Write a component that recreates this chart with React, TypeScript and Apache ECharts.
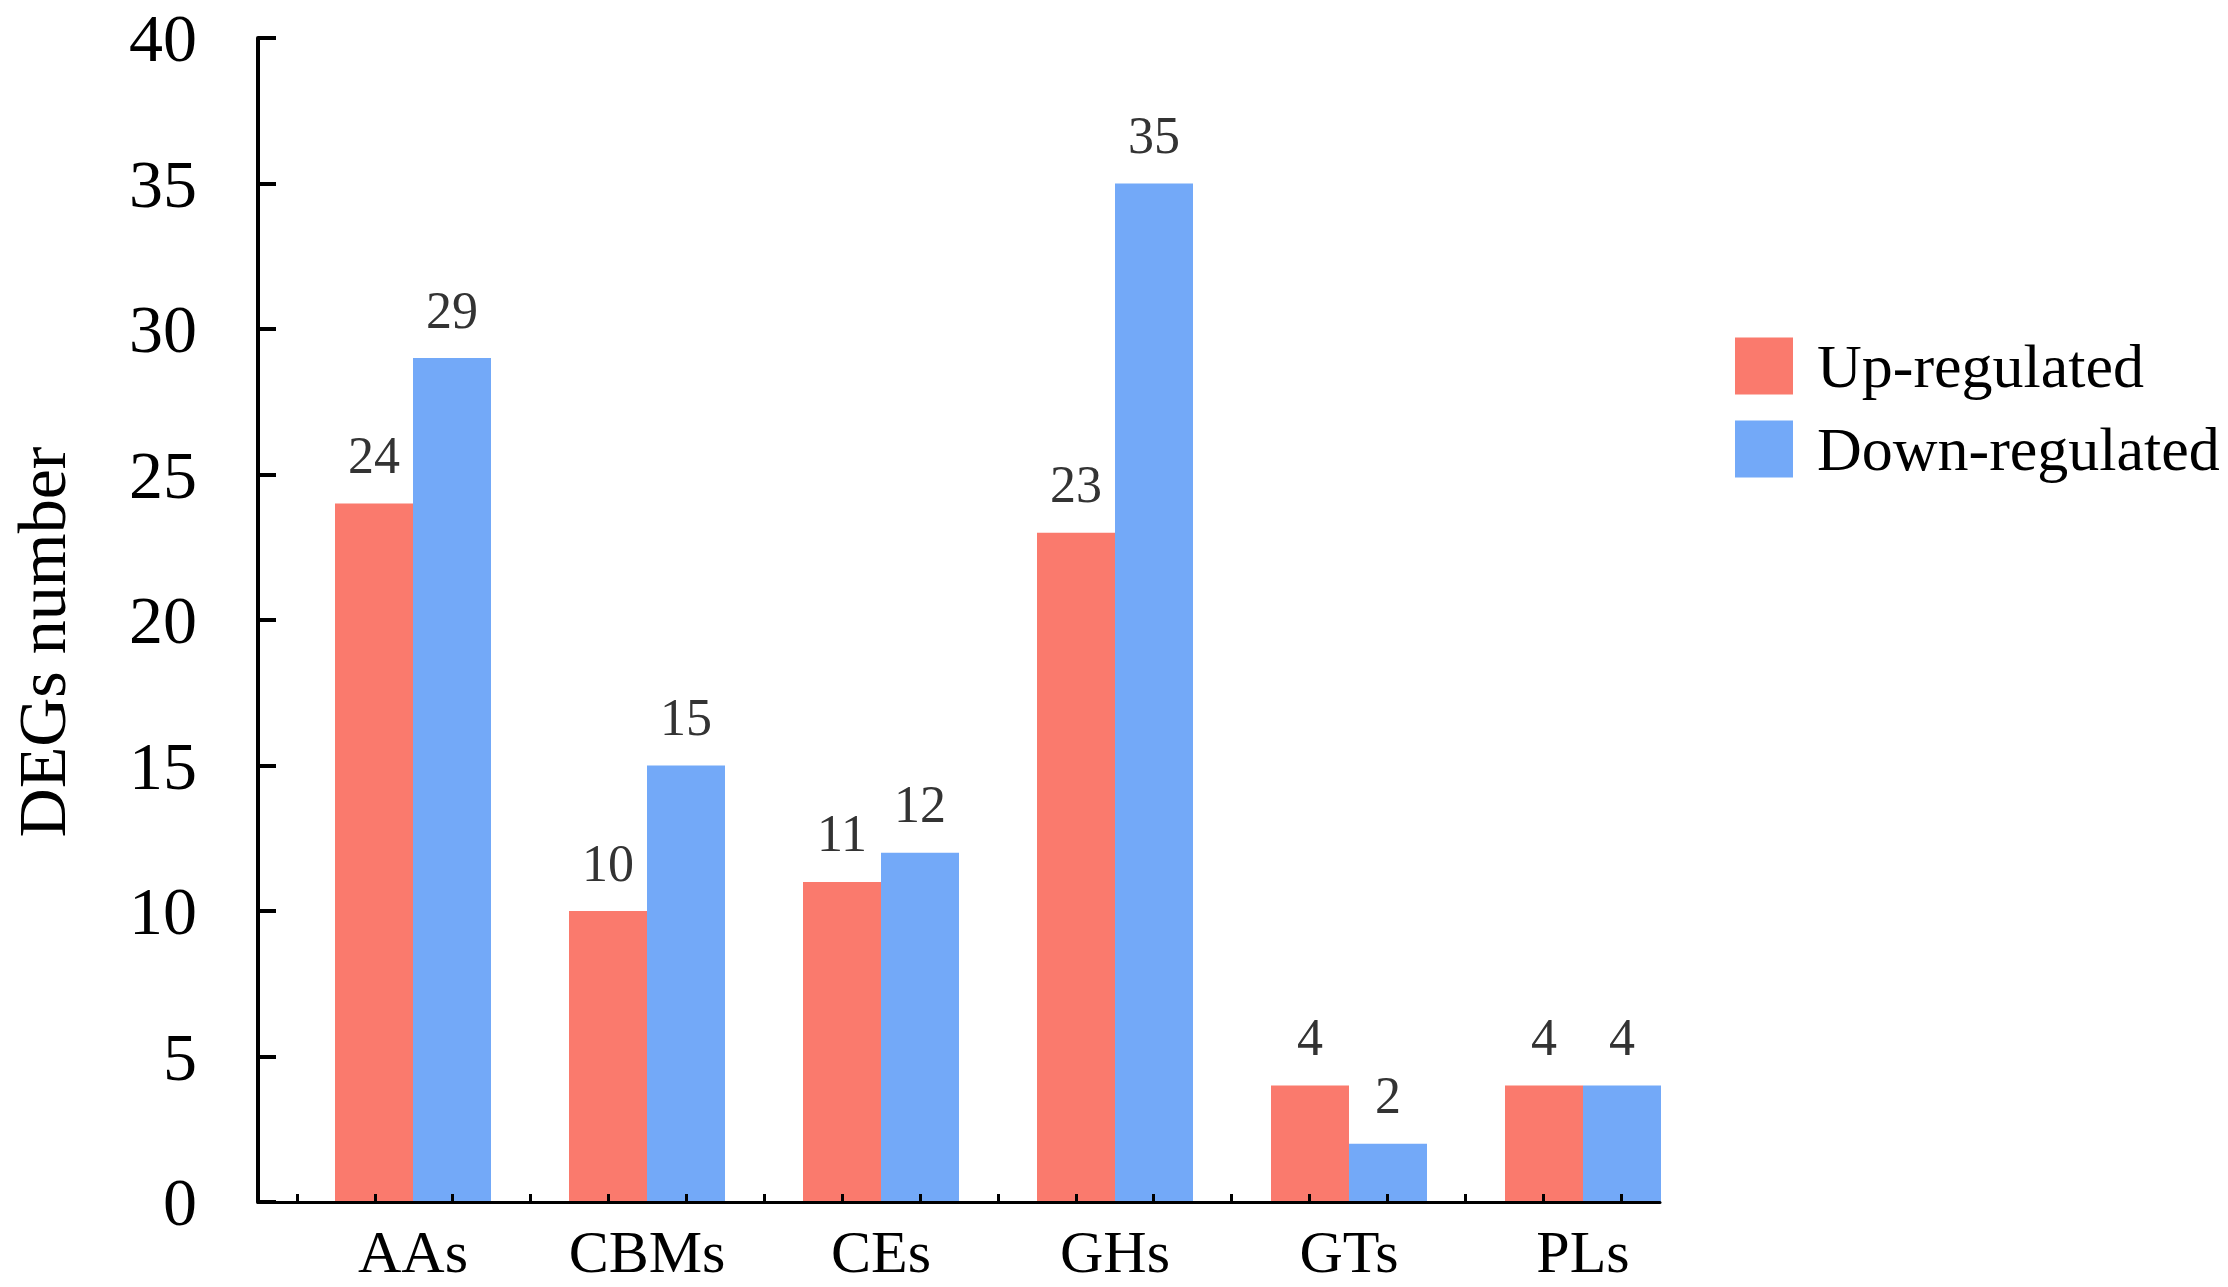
import React, { useEffect, useRef } from "react";
import * as echarts from "echarts";

const categories = ["AAs", "CBMs", "CEs", "GHs", "GTs", "PLs"];
const upRegulated = [24, 10, 11, 23, 4, 4];
const downRegulated = [29, 15, 12, 35, 2, 4];
const yTicks = { min: 0, max: 40, interval: 5 };
const seriesNames = ["Up-regulated", "Down-regulated"];
const slotCount = categories.length * 3;
const tickSlots: string[] = Array.from({ length: slotCount }, () => "");

const FONT = "'Liberation Serif', 'Times New Roman', Times, serif";
const RED = "#FA7A6D";
const BLUE = "#73A9F8";

export default function App() {
  const ref = useRef<HTMLDivElement>(null);

  useEffect(() => {
    document.body.style.margin = "0";
    document.body.style.overflow = "hidden";
    if (!ref.current) return;
    const chart = echarts.init(ref.current, undefined, { renderer: "svg" });
    const label = {
      show: true,
      position: "top" as const,
      distance: 22,
      color: "#333333",
      fontSize: 52,
      fontFamily: FONT,
    };
    chart.setOption({
      animation: false,
      backgroundColor: "#ffffff",
      grid: [
        { left: 296, right: 528, top: 38, bottom: 85, containLabel: false, outerBoundsMode: "none" },
        { left: 258, right: 568, top: 38, bottom: 85, containLabel: false, outerBoundsMode: "none" },
      ],
      legend: {
        orient: "vertical",
        left: 1730,
        top: 330,
        icon: "rect",
        itemWidth: 58,
        itemHeight: 57,
        itemGap: 21,
        data: seriesNames,
        textStyle: {
          fontSize: 62,
          fontFamily: FONT,
          color: "#000000",
          padding: [0, 0, 0, 19],
        },
      },
      xAxis: [
        {
          type: "category",
          gridIndex: 0,
          data: categories,
          boundaryGap: true,
          axisLine: { show: false },
          axisTick: { show: false },
          axisLabel: {
            color: "#000000",
            fontSize: 60,
            fontFamily: FONT,
            margin: 20,
          },
          splitLine: { show: false },
        },
        {
          type: "category",
          gridIndex: 1,
          data: tickSlots,
          boundaryGap: true,
          z: 10,
          axisLine: { show: true, lineStyle: { color: "#000000", width: 3 } },
          axisTick: {
            show: true,
            inside: true,
            alignWithLabel: true,
            length: 8,
            lineStyle: { color: "#000000", width: 3 },
          },
          axisLabel: { show: false },
          splitLine: { show: false },
        },
      ],
      yAxis: [
        {
          type: "value",
          gridIndex: 0,
          min: yTicks.min,
          max: yTicks.max,
          interval: yTicks.interval,
          show: false,
        },
        {
          type: "value",
          gridIndex: 1,
          min: yTicks.min,
          max: yTicks.max,
          interval: yTicks.interval,
          z: 10,
          name: "DEGs number",
          nameLocation: "middle",
          nameGap: 182,
          nameTextStyle: {
            fontSize: 68,
            lineHeight: 68,
            fontFamily: FONT,
            color: "#000000",
            padding: [0, 44, 0, 0],
          },
          axisLine: { show: true, lineStyle: { color: "#000000", width: 4 } },
          axisTick: {
            show: true,
            inside: true,
            length: 18,
            lineStyle: { color: "#000000", width: 4 },
          },
          axisLabel: {
            color: "#000000",
            fontSize: 68,
            fontFamily: FONT,
            margin: 61,
          },
          splitLine: { show: false },
        },
      ],
      series: [
        {
          name: seriesNames[0],
          type: "bar",
          xAxisIndex: 0,
          yAxisIndex: 0,
          data: upRegulated,
          barWidth: 78,
          barGap: "0%",
          itemStyle: { color: RED },
          label,
        },
        {
          name: seriesNames[1],
          type: "bar",
          xAxisIndex: 0,
          yAxisIndex: 0,
          data: downRegulated,
          barWidth: 78,
          barGap: "0%",
          itemStyle: { color: BLUE },
          label,
        },
      ],
    });
    return () => chart.dispose();
  }, []);

  return <div ref={ref} style={{ width: 2228, height: 1287 }} />;
}
